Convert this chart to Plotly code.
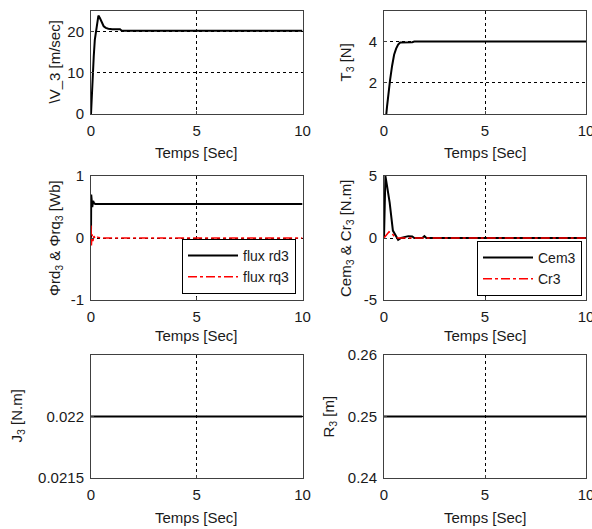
import plotly.graph_objects as go

# ---------------- data ----------------
t_v = [0, 0.03, 0.08, 0.13, 0.18, 0.24, 0.29, 0.35, 0.42, 0.5, 0.6, 0.7, 0.82, 1.0, 1.2, 1.37, 1.45, 10]
v3 = [0, 4, 9, 14, 18, 20.5, 22.8, 23.9, 23.3, 22.2, 21.3, 20.9, 20.7, 20.6, 20.6, 20.6, 20.2, 20.2]

t_T = [0, 0.1, 0.15, 0.2, 0.3, 0.4, 0.5, 0.6, 0.7, 0.8, 1.0, 1.4, 1.5, 10]
T3 = [0, 0.3, 0.8, 1.3, 2.1, 2.8, 3.35, 3.65, 3.85, 3.95, 3.95, 3.97, 4.0, 4.0]

t_rd = [0, 0.01, 0.03, 0.06, 0.1, 0.15, 0.2, 10]
flux_rd3 = [0, 0.7, 0.62, 0.5, 0.6, 0.56, 0.55, 0.55]
t_rq = [0, 0.02, 0.05, 0.09, 0.14, 0.2, 0.3, 0.5, 10]
flux_rq3 = [0.2, -0.12, 0.06, -0.05, 0.03, -0.01, 0.01, 0, 0]

t_cem = [0, 0.03, 0.07, 0.15, 0.28, 0.44, 0.61, 0.7, 0.85, 1.1, 1.2, 1.4, 1.5, 1.9, 2.0, 2.1, 10]
cem3 = [0, 4.5, 5, 4.2, 2.85, 0.6, 0.03, -0.15, 0, 0.12, 0.15, 0.12, 0, 0, 0.15, 0, 0]
t_cr = [0, 0.1, 0.25, 0.4, 0.55, 0.7, 10]
cr3 = [0, 0.2, 0.5, 0.35, 0.05, 0, 0]

t_const = [0, 10]
J3 = [0.022, 0.022]
R3 = [0.25, 0.25]

x_ticks = [0, 5, 10]
y_ticks = {
    1: [0, 10, 20],
    2: [2, 4],
    3: [-1, 0, 1],
    4: [-5, 0, 5],
    5: [0.0215, 0.022],
    6: [0.24, 0.25, 0.26],
}
y_ticktext = {
    1: ["0", "10", "20"],
    2: ["2", "4"],
    3: ["-1", "0", "1"],
    4: ["-5", "0", "5"],
    5: ["0.0215", "0.022"],
    6: ["0.24", "0.25", "0.26"],
}
y_ranges = {1: [0, 25], 2: [0.44, 5.5], 3: [-1, 1], 4: [-5, 5], 5: [0.0215, 0.0225], 6: [0.24, 0.26]}
y_titles = {
    1: "\\V_3 [m/sec]",
    2: "T<sub>3</sub> [N]",
    3: "Φrd<sub>3</sub> &amp; Φrq<sub>3</sub> [Wb]",
    4: "Cem<sub>3</sub> &amp; Cr<sub>3</sub> [N.m]",
    5: "J<sub>3</sub> [N.m]",
    6: "R<sub>3</sub> [m]",
}
x_title = "Temps [Sec]"

# ---------------- layout geometry (pixels) ----------------
W, H = 592, 529
FONT = "Liberation Sans, Arial, sans-serif"
TXT = "#1a1a1a"
cols = [(91, 302.5), (384, 586)]
rows = [(11, 114), (176, 300), (355, 478)]
ytitle_x = {1: 54, 2: 346, 3: 55, 4: 346, 5: 17, 6: 329}
xtitle_y = [152, 335, 517]


def px_x(p):
    return p / W


def px_y(p):
    return 1 - p / H


fig = go.Figure()

line_blk = dict(color="black", width=2)
line_red = dict(color="red", width=1.5, dash="dashdot")

fig.add_trace(go.Scatter(x=t_v, y=v3, mode="lines", line=line_blk, xaxis="x", yaxis="y", showlegend=False))
fig.add_trace(go.Scatter(x=t_T, y=T3, mode="lines", line=line_blk, xaxis="x2", yaxis="y2", showlegend=False))
fig.add_trace(go.Scatter(x=t_rd, y=flux_rd3, mode="lines", line=line_blk, xaxis="x3", yaxis="y3",
                         name="flux rd3", legend="legend"))
fig.add_trace(go.Scatter(x=t_rq, y=flux_rq3, mode="lines", line=line_red, xaxis="x3", yaxis="y3",
                         name="flux rq3", legend="legend"))
fig.add_trace(go.Scatter(x=t_cem, y=cem3, mode="lines", line=line_blk, xaxis="x4", yaxis="y4",
                         name="Cem3", legend="legend2"))
fig.add_trace(go.Scatter(x=t_cr, y=cr3, mode="lines", line=line_red, xaxis="x4", yaxis="y4",
                         name="Cr3", legend="legend2"))
fig.add_trace(go.Scatter(x=t_const, y=J3, mode="lines", line=line_blk, xaxis="x5", yaxis="y5", showlegend=False))
fig.add_trace(go.Scatter(x=t_const, y=R3, mode="lines", line=line_blk, xaxis="x6", yaxis="y6", showlegend=False))

axis_common = dict(
    showline=True, linecolor="#404040", linewidth=1, mirror=True,
    showgrid=True, gridcolor="black", gridwidth=1, griddash="dot",
    zeroline=False, ticks="inside", ticklen=3, tickcolor="#404040",
    tickfont=dict(family=FONT, size=15, color=TXT), automargin=False,
    ticklabeloverflow="allow",
)

annotations = []
for i in range(6):
    n = i + 1
    r, c = divmod(i, 2)
    x0, x1 = cols[c]
    y0, y1 = rows[r]
    xa = "xaxis" if n == 1 else f"xaxis{n}"
    ya = "yaxis" if n == 1 else f"yaxis{n}"
    anc_x = "y" if n == 1 else f"y{n}"
    anc_y = "x" if n == 1 else f"x{n}"
    fig.layout[xa] = dict(axis_common, domain=[px_x(x0), px_x(x1)], range=[0, 10],
                          tickvals=x_ticks, anchor=anc_x, ticklabelstandoff=3)
    fig.layout[ya] = dict(axis_common, domain=[px_y(y1), px_y(y0)], range=y_ranges[n],
                          tickvals=y_ticks[n], ticktext=y_ticktext[n], anchor=anc_y,
                          ticklabelstandoff=3)
    annotations.append(dict(text=x_title, xref="paper", yref="paper",
                            x=px_x((x0 + x1) / 2), y=px_y(xtitle_y[r]),
                            xanchor="center", yanchor="middle", showarrow=False,
                            font=dict(family=FONT, size=15, color=TXT)))
    annotations.append(dict(text=y_titles[n], xref="paper", yref="paper",
                            x=px_x(ytitle_x[n]), y=px_y((y0 + y1) / 2),
                            xanchor="center", yanchor="middle", showarrow=False, textangle=-90,
                            font=dict(family=FONT, size=15, color=TXT)))

legend_common = dict(
    bgcolor="white", bordercolor="black", borderwidth=1,
    font=dict(family=FONT, size=14, color=TXT),
    xanchor="right", yanchor="bottom", tracegroupgap=0, itemwidth=50,
)

fig.update_layout(
    template="none",
    width=W, height=H,
    margin=dict(l=0, r=0, t=0, b=0, autoexpand=False),
    paper_bgcolor="white", plot_bgcolor="white",
    annotations=annotations,
    legend=dict(legend_common, x=px_x(296), y=px_y(294)),
    legend2=dict(legend_common, x=px_x(582), y=px_y(296)),
)

fig.write_html("out.html", config={"displayModeBar": False},
               post_script="document.body.style.margin='0';")
